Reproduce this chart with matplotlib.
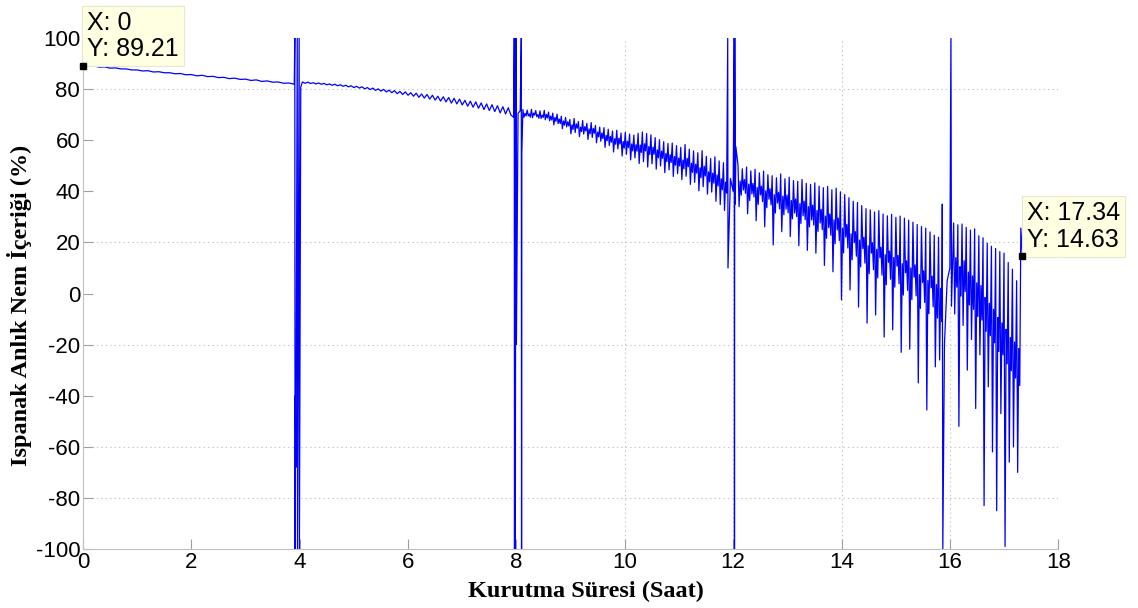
import numpy as np
import matplotlib.pyplot as plt

# --- readings taken off the plot -------------------------------------------
# slow start, 0 - 3.9 h, one reading every 0.1 h
seg_a = [89.21, 89.0, 89.1, 88.6, 88.7, 88.2, 88.3, 87.9, 87.9, 87.5,
         87.5, 87.1, 87.2, 86.7, 86.8, 86.4, 86.4, 86.0, 86.1, 85.6,
         85.7, 85.2, 85.4, 84.9, 85.0, 84.5, 84.6, 84.1, 84.3, 83.8,
         83.9, 83.4, 83.6, 83.0, 83.2, 82.7, 82.8, 82.3, 82.4, 81.9]
seg_a_span = (0.0, 3.9)

# disturbance around 4 h
spike4_t = [3.91, 3.915, 3.92, 3.93, 3.955, 3.96, 3.99, 3.995, 4.02]
spike4_y = [100, -100, -40, -68, 100, -100, 100, -100, 80.8]

# 4.05 - 7.9 h, peak / trough pairs
seg_b = [82.8, 82.3, 82.7, 82.2, 82.5, 82.0, 82.4, 81.9, 82.2, 81.7,
         82.0, 81.5, 81.9, 81.3, 81.7, 81.1, 81.5, 80.9, 81.3, 80.6,
         81.1, 80.4, 80.9, 80.1, 80.6, 79.8, 80.4, 79.5, 80.1, 79.2,
         79.9, 78.9, 79.6, 78.6, 79.4, 78.2, 79.1, 77.9, 78.9, 77.6,
         78.6, 77.2, 78.4, 76.8, 78.1, 76.5, 77.9, 76.1, 77.6, 75.7,
         77.2, 75.3, 77.0, 75.0, 76.7, 74.5, 76.4, 74.2, 76.1, 73.8,
         75.6, 73.3, 75.3, 72.9, 75.0, 72.5, 74.6, 72.0, 74.2, 71.6,
         73.9, 71.2, 73.5, 70.7, 73.1, 70.3, 72.7, 69.8]
seg_b_span = (4.05, 7.9)

# disturbance around 8 h
spike8_t = [7.95, 7.96, 7.965, 7.975, 7.98, 7.99, 8.0, 8.03, 8.07, 8.09, 8.095, 8.1]
spike8_y = [69.0, 100, -100, 100, -100, 100, -20, 70.5, 71.5, 100, -100, 55]

# 8.12 - 11.88 h: peak, trough per cycle ...
seg_c = [72.0, 69.0, 71.8, 69.5, 72.1, 68.8, 71.6, 69.2, 71.5, 68.5,
         71.7, 68.0, 71.0, 67.6, 70.6, 66.0, 70.2, 66.5, 69.4, 64.5,
         68.9, 65.2, 68.1, 62.5, 68.5, 63.0, 67.3, 61.4, 67.7, 62.4,
         66.6, 60.3, 66.9, 61.1, 65.8, 59.0, 65.1, 59.6, 64.9, 57.2,
         64.3, 57.9, 63.6, 55.4, 63.9, 56.6, 62.8, 53.8, 63.1, 54.5,
         62.4, 52.3, 62.0, 53.1, 62.7, 50.9, 63.2, 51.6, 62.6, 49.5,
         62.1, 50.8, 61.0, 48.7, 60.2, 49.9, 59.4, 47.3, 58.7, 48.4,
         58.9, 45.8, 57.9, 46.9, 57.2, 44.6, 58.3, 45.9, 56.5, 42.7,
         55.8, 43.5, 55.1, 40.2, 55.9, 41.8, 53.7, 38.9, 52.8, 39.7,
         53.5, 36.1, 51.9, 34.8, 51.2, 32.5]
# ... the level it recovers to ...
seg_c_mid = [70.5, 70.3, 70.6, 70.0, 69.8, 70.1, 69.4, 68.9, 68.3, 67.5,
             67.2, 66.0, 66.4, 65.1, 65.3, 64.4, 64.6, 63.2, 62.8, 61.9,
             61.5, 60.6, 60.8, 59.5, 59.6, 58.5, 58.2, 58.1, 58.6, 57.5,
             57.3, 56.2, 55.7, 54.8, 54.3, 53.6, 53.0, 52.2, 52.9, 51.0,
             50.6, 49.2, 49.8, 47.6, 47.1, 46.4, 44.9, 43.6]
# ... and a smaller dip before the next peak
seg_c_dip = [69.5, 69.0, 69.8, 68.6, 68.9, 68.7, 67.9, 67.4, 66.5, 65.9,
             65.6, 64.2, 64.7, 63.4, 63.6, 62.5, 62.7, 61.3, 60.6, 59.8,
             59.2, 58.4, 58.5, 56.9, 57.1, 55.8, 55.7, 55.2, 55.8, 54.4,
             54.5, 53.1, 52.9, 51.6, 51.3, 50.2, 49.9, 48.8, 49.6, 47.4,
             47.1, 45.3, 46.0, 43.7, 43.2, 42.1, 40.6, 39.3]
seg_c_span = (8.12, 11.88)

# disturbance around 12 h
spike12_t = [11.90, 11.905, 11.95, 12.0, 12.02, 12.025, 12.03, 12.04, 12.05]
spike12_y = [100, 10, 45, 40, 100, -100, 100, 35, 57.5]

# 12.09 - 15.85 h
seg_d = [50.3, 34.0, 48.8, 40.5, 49.5, 31.2, 48.0, 39.0, 48.6, 28.5,
         47.2, 38.6, 47.9, 26.1, 46.5, 36.9, 46.1, 19.0, 45.3, 35.4,
         46.8, 24.2, 44.9, 33.0, 45.5, 22.3, 44.2, 31.5, 43.9, 18.7,
         44.6, 30.4, 43.1, 16.9, 42.7, 28.8, 43.3, 15.8, 42.0, 27.6,
         41.4, 11.0, 41.9, 25.8, 40.6, 8.5, 41.2, 24.9, 39.8, -2.5,
         38.7, 22.1, 37.5, 1.4, 36.1, 19.9, 35.6, -5.3, 34.4, 17.6,
         33.2, -11.6, 32.7, 15.8, 31.9, -8.4, 32.4, 14.0, 31.1, -17.0,
         30.4, 12.2, 31.0, -14.2, 29.8, 10.7, 30.3, -23.0, 29.5, 8.1,
         28.7, -21.8, 27.9, 6.4, 27.0, -35.0, 26.2, 4.3, 25.6, -45.6,
         24.1, 2.2, 22.8, -28.7, 22.0, -26.0]
seg_d_mid = [44.0, 44.6, 42.8, 43.1, 41.5, 42.0, 40.2, 41.0, 38.7, 39.6,
             38.1, 38.5, 36.4, 37.0, 35.2, 36.1, 34.0, 34.6, 32.5, 32.9,
             30.3, 31.1, 28.8, 29.5, 25.6, 27.0, 23.4, 24.2, 20.9, 22.0,
             18.7, 19.9, 17.3, 18.1, 15.2, 16.6, 14.1, 14.9, 11.7, 12.8,
             10.0, 11.2, 7.4, 8.9, 5.1, 6.8, 3.5, 2.0]
seg_d_dip = [38.5, 39.2, 36.4, 37.8, 34.9, 36.0, 33.6, 34.7, 31.5, 33.1,
             30.8, 31.6, 29.2, 30.1, 27.4, 28.9, 26.1, 26.8, 24.3, 25.0,
             21.6, 22.8, 19.5, 20.7, 15.9, 17.8, 13.2, 14.6, 10.4, 11.9,
             7.8, 9.3, 6.1, 7.2, 3.4, 5.6, 2.5, 3.8, -0.6, 1.2,
             -2.4, -0.9, -5.8, -3.5, -7.9, -5.2, -9.6, -11.0]
seg_d_span = (12.09, 15.85)

# disturbance around 16 h
spike16_t = [15.86, 15.87, 15.9, 15.95, 16.0, 16.02, 16.03]
spike16_y = [35, -100, -20, 5, 10, 100, -5]

# 16.07 - 17.29 h
seg_e = [27.6, -8.0, 26.9, -52.0, 27.2, -12.5, 25.9, -30.0, 24.8, -18.0,
         25.3, -45.0, 22.6, -24.0, 21.8, -83.0, 19.7, -36.5, 18.5, -62.0,
         17.6, -85.0, 16.4, -47.0, 15.8, -99.0, 12.1, -66.0, 9.5, -60.0,
         5.0, -70.0]
seg_e_mid = [14.0, 10.5, 12.8, 8.4, 6.9, 4.2, 3.1, -1.5, -3.8, -6.2,
             -9.4, -11.5, -14.0, -17.2, -19.0, -21.5]
seg_e_dip = [2.5, -1.0, 0.8, -4.5, -6.2, -9.0, -10.4, -14.8, -16.5, -19.3,
             -22.7, -24.0, -27.5, -30.2, -33.1, -36.0]
seg_e_span = (16.07, 17.29)

# last two readings of the run
tail_t = [17.31, 17.34]
tail_y = [25.6, 14.63]

tip_start = (0, 89.21)
tip_end = (17.34, 14.63)


# --- assemble the time series ----------------------------------------------
def seg(vals, span, mids=None, dips=None):
    vals = list(vals)
    if mids is not None:
        # peak, trough, recovery, small dip for every cycle
        out = []
        for k in range(len(mids)):
            out += [vals[2 * k], vals[2 * k + 1], mids[k], dips[k]]
        vals = out
    return list(np.linspace(span[0], span[1], len(vals))), vals


t, y = [], []
for part in [seg(seg_a, seg_a_span), (spike4_t, spike4_y),
             seg(seg_b, seg_b_span), (spike8_t, spike8_y),
             seg(seg_c, seg_c_span, seg_c_mid, seg_c_dip), (spike12_t, spike12_y),
             seg(seg_d, seg_d_span, seg_d_mid, seg_d_dip), (spike16_t, spike16_y),
             seg(seg_e, seg_e_span, seg_e_mid, seg_e_dip), (tail_t, tail_y)]:
    t += list(part[0])
    y += list(part[1])

plt.rcParams['font.family'] = ['Liberation Sans', 'DejaVu Sans']
plt.rcParams['axes.unicode_minus'] = False
plt.rcParams['axes.grid'] = False

fig = plt.figure(figsize=(11.38, 6.08), dpi=100)
ax = fig.add_axes([0.0729, 0.097, 0.857, 0.8405])
ax.plot(t, y, color='#0000ff', lw=0.9)

ax.set_xlim(0, 18)
ax.set_ylim(-100, 100)
ax.set_xticks(np.arange(0, 19, 2))
ax.set_yticks(np.arange(-100, 101, 20))
ax.grid(False)
for gl in ax.get_xgridlines() + ax.get_ygridlines():
    gl.set_visible(False)

# dotted grid, only the lines that show up in the picture
grid = dict(color='#c4c4c4', lw=0.8, dashes=(1.2, 2.8), zorder=0)
for gy in [80, 20, -20, -60, -80]:
    ax.axhline(gy, **grid)
for gx in [10, 12, 14, 16, 18]:
    ax.axvline(gx, **grid)

for s in ['top', 'right']:
    ax.spines[s].set_visible(False)
for s in ['left', 'bottom']:
    ax.spines[s].set_color('#c0c0c0')
ax.tick_params(direction='in', length=7, color='#a0a0a0', labelsize=16, pad=2)

lab = dict(family=['Liberation Serif', 'DejaVu Serif'], fontweight='bold', fontsize=17.5)
ax.set_xlabel('Kurutma Süresi (Saat)', **lab)
ax.set_ylabel('Ispanak Anlık Nem İçeriği (%)', **lab)
ax.xaxis.set_label_coords(0.516, -0.062)
ax.yaxis.set_label_coords(-0.052, 0.477)

box = dict(boxstyle='square,pad=0.2', fc='#ffffe1', ec='#e8e8d0', lw=0.8)
for (tx, ty) in [tip_start, tip_end]:
    ax.plot([tx], [ty], 's', color='black', ms=4.5, clip_on=False, zorder=8)
    ax.annotate('X: %g\nY: %.2f' % (tx, ty), xy=(tx, ty), xytext=(3, 3),
                textcoords='offset points', fontsize=18, va='bottom', ha='left',
                linespacing=1.15, bbox=box, annotation_clip=False, zorder=6)

fig.savefig('out.png', dpi=100)
